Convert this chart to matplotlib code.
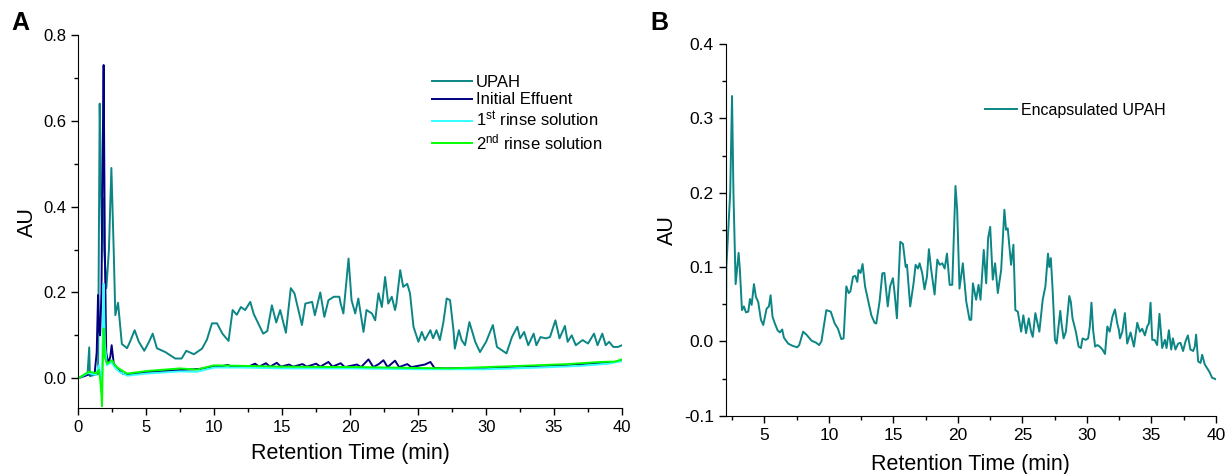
import matplotlib
matplotlib.use("Agg")
import matplotlib.pyplot as plt
from matplotlib.ticker import MultipleLocator, FormatStrFormatter

plt.rcParams['font.family'] = ['Liberation Sans', 'DejaVu Sans']
plt.rcParams['mathtext.default'] = 'regular'
plt.rcParams['axes.unicode_minus'] = False

NARROW = ['Liberation Sans Narrow', 'Liberation Sans', 'DejaVu Sans']

# ---------------- panel A data ----------------
upah_t = [0, 0.68, 0.8, 0.85, 1.2, 1.45, 1.57, 1.66, 1.74, 1.8, 1.9, 2.06, 2.25, 2.43, 2.6,
          2.72, 2.92, 3.2, 3.58, 3.8, 4.14, 4.45, 4.85, 5.2, 5.47, 5.78, 6.4, 7.13, 7.6,
          7.94, 8.5, 9.1, 9.46, 9.83, 10.2, 10.6, 11.05, 11.35, 11.66, 11.96, 12.27,
          12.65, 12.9, 13.6, 13.9, 14.24, 14.56, 14.85, 15.27, 15.63, 15.9, 16.45, 16.7,
          17.2, 17.4, 17.8, 18.1, 18.4, 18.8, 19.2, 19.3, 19.5, 19.88, 20.1, 20.37, 20.6,
          20.98, 21.2, 21.6, 21.84, 22.08, 22.33, 22.57, 22.8, 23.06, 23.3, 23.4, 23.68,
          23.9, 24.2, 24.4, 24.66, 25.02, 25.27, 25.5, 25.9, 26.1, 26.35, 26.6, 26.86,
          27.1, 27.35, 27.6, 27.7, 28.0, 28.2, 28.45, 28.77, 28.95, 29.2, 29.55, 30.0,
          30.5, 30.8, 31.5, 31.9, 32.3, 32.5, 32.8, 33.1, 33.5, 33.7, 34.0, 34.4, 34.7,
          35.1, 35.4, 35.8, 36.0, 36.3, 36.6, 37.1, 37.5, 37.94, 38.2, 38.55, 38.8,
          39.05, 39.36, 39.7, 40.0]
upah_v = [0, 0.012, 0.072, 0.005, 0.008, 0.01, 0.64, 0.45, 0.33, 0.42, 0.3, 0.21, 0.3, 0.49, 0.3,
          0.147, 0.176, 0.08, 0.07, 0.085, 0.112, 0.085, 0.064, 0.085, 0.104, 0.07, 0.061,
          0.046, 0.046, 0.064, 0.056, 0.069, 0.09, 0.128, 0.128, 0.104, 0.087, 0.159,
          0.148, 0.166, 0.159, 0.178, 0.15, 0.104, 0.11, 0.17, 0.13, 0.159, 0.106, 0.21,
          0.198, 0.124, 0.174, 0.178, 0.147, 0.2, 0.143, 0.182, 0.19, 0.19, 0.174, 0.151,
          0.279, 0.182, 0.151, 0.186, 0.108, 0.159, 0.151, 0.135, 0.198, 0.166, 0.236,
          0.174, 0.19, 0.159, 0.174, 0.252, 0.213, 0.22, 0.198, 0.12, 0.085, 0.108, 0.089,
          0.112, 0.093, 0.112, 0.089, 0.131, 0.186, 0.182, 0.112, 0.069, 0.112, 0.089,
          0.077, 0.131, 0.112, 0.085, 0.061, 0.085, 0.124, 0.073, 0.058, 0.096, 0.12,
          0.093, 0.108, 0.077, 0.104, 0.077, 0.096, 0.093, 0.096, 0.135, 0.093, 0.122,
          0.085, 0.1, 0.077, 0.089, 0.081, 0.104, 0.077, 0.104, 0.077, 0.085, 0.073,
          0.073, 0.077]

eff_t = [0, 0.7, 1.2, 1.35, 1.45, 1.52, 1.6, 1.7, 1.8, 1.86, 1.95, 2.05, 2.2, 2.35, 2.45,
         2.6, 2.9, 3.3, 3.8, 5, 6.5, 8, 9, 9.8, 10.5, 11, 11.3, 11.6, 12.5, 13, 13.3, 13.8,
         14.1, 14.6, 14.9, 15.5, 15.8, 16.5, 16.8, 17.5, 17.8, 18.4, 18.7, 19.3, 19.6,
         20.5, 20.8, 21.35, 21.7, 22.1, 22.45, 22.75, 23.3, 23.6, 24.2, 24.5, 25.5, 25.9,
         26.2, 27, 30, 33, 36, 38, 39.5, 40]
eff_v = [0, 0.008, 0.012, 0.06, 0.194, 0.11, 0.1, 0.2, 0.55, 0.73, 0.3, 0.06, 0.035, 0.05,
         0.077, 0.035, 0.02, 0.01, 0.009, 0.014, 0.017, 0.02, 0.022, 0.027, 0.028, 0.031,
         0.027, 0.028, 0.027, 0.034, 0.027, 0.035, 0.027, 0.036, 0.027, 0.032, 0.027,
         0.033, 0.027, 0.034, 0.027, 0.038, 0.027, 0.035, 0.026, 0.032, 0.026, 0.044,
         0.026, 0.033, 0.042, 0.026, 0.041, 0.026, 0.033, 0.026, 0.032, 0.038, 0.024,
         0.023, 0.024, 0.028, 0.031, 0.035, 0.038, 0.042]

rinse1_t = [0, 0.7, 1.3, 1.5, 1.62, 1.72, 1.8, 1.86, 1.95, 2.1, 2.4, 2.7, 3.0, 3.6, 5, 7.5,
            8.7, 10, 12, 15, 20, 25, 30, 34, 37, 39, 40]
rinse1_v = [0, 0.012, 0.008, 0.03, 0.01, -0.02, 0.1, 0.22, 0.08, 0.03, 0.038, 0.025, 0.015,
            0.006, 0.011, 0.016, 0.015, 0.025, 0.025, 0.023, 0.023, 0.021, 0.021, 0.025,
            0.029, 0.034, 0.04]

rinse2_t = [0, 0.76, 1.35, 1.5, 1.6, 1.7, 1.74, 1.8, 1.86, 1.95, 2.1, 2.3, 2.48, 2.7, 2.97,
            3.58, 5.05, 7.5, 8.7, 9.95, 12, 15, 20.7, 25, 27.35, 30, 33.5, 36, 38.4, 39.5, 40]
rinse2_v = [0, 0.015, 0.012, 0.02, 0.0, -0.04, -0.065, 0.04, 0.116, 0.05, 0.034, 0.038, 0.042,
            0.03, 0.023, 0.011, 0.017, 0.023, 0.02, 0.03, 0.029, 0.027, 0.026, 0.024, 0.023,
            0.026, 0.03, 0.033, 0.038, 0.039, 0.044]

# ---------------- panel B data ----------------
enc_t = [2.0, 2.05, 2.2, 2.35, 2.49, 2.6, 2.77, 3.0, 3.1, 3.26, 3.41, 3.57, 3.75, 3.88, 4.01,
         4.19, 4.34, 4.52, 4.73, 4.91, 5.17, 5.35, 5.48, 5.63, 5.81, 6.02, 6.2, 6.38, 6.51,
         6.84, 7.18, 7.54, 7.7, 8.0, 8.26, 8.65, 9.03, 9.24, 9.42, 9.8, 10.14, 10.45, 10.7,
         10.96, 11.14, 11.35, 11.53, 11.66, 11.87, 12.05, 12.2, 12.3, 12.46, 12.61, 12.8,
         13.03, 13.29, 13.54, 13.67, 13.93, 14.14, 14.3, 14.56, 14.74, 14.96, 15.09, 15.27,
         15.53, 15.74, 15.95, 16.05, 16.3, 16.56, 16.72, 16.9, 17.03, 17.23, 17.41, 17.6,
         17.75, 17.93, 18.19, 18.4, 18.58, 18.79, 18.97, 19.15, 19.36, 19.56, 19.81, 19.94,
         20.12, 20.38, 20.64, 20.9, 21.03, 21.16, 21.41, 21.6, 21.75, 22.0, 22.19, 22.34,
         22.5, 22.7, 22.88, 23.09, 23.35, 23.6, 23.73, 23.86, 24.12, 24.3, 24.45, 24.64,
         24.9, 25.07, 25.28, 25.49, 25.67, 25.8, 26.0, 26.31, 26.57, 26.78, 26.98, 27.08,
         27.2, 27.34, 27.52, 27.65, 27.8, 27.93, 28.03, 28.19, 28.37, 28.63, 28.75, 28.88,
         29.14, 29.35, 29.53, 29.66, 29.91, 30.09, 30.22, 30.35, 30.48, 30.63, 30.81, 30.99,
         31.2, 31.4, 31.58, 31.76, 31.97, 32.17, 32.35, 32.48, 32.56, 32.74, 32.94, 33.12,
         33.38, 33.64, 33.9, 34.1, 34.28, 34.49, 34.67, 34.8, 34.93, 35.06, 35.24, 35.44,
         35.62, 35.83, 36.04, 36.17, 36.35, 36.53, 36.66, 36.86, 37.07, 37.25, 37.45, 37.64,
         37.82, 38.02, 38.23, 38.36, 38.46, 38.62, 38.8, 38.93, 39.13, 39.31, 39.49, 39.7,
         40.0]
enc_v = [-0.12, 0.1, 0.15, 0.2, 0.33, 0.2, 0.077, 0.119, 0.096, 0.042, 0.047, 0.039, 0.04,
         0.057, 0.049, 0.077, 0.06, 0.053, 0.029, 0.022, 0.044, 0.047, 0.062, 0.033, 0.024,
         0.015, 0.012, 0.016, 0.005, -0.003, -0.006, -0.008, -0.005, 0.013, 0.009, 0.001,
         -0.002, -0.005, 0.0, 0.042, 0.04, 0.024, 0.017, 0.003, 0.004, 0.074, 0.065, 0.067,
         0.087, 0.088, 0.08, 0.096, 0.092, 0.104, 0.074, 0.056, 0.035, 0.025, 0.024, 0.054,
         0.0915, 0.092, 0.047, 0.074, 0.085, 0.065, 0.031, 0.134, 0.131, 0.1, 0.103, 0.047,
         0.078, 0.103, 0.098, 0.105, 0.092, 0.07, 0.087, 0.124, 0.096, 0.063, 0.11, 0.103,
         0.105, 0.098, 0.118, 0.076, 0.076, 0.209, 0.177, 0.071, 0.105, 0.054, 0.029, 0.029,
         0.078, 0.056, 0.076, 0.056, 0.123, 0.078, 0.139, 0.154, 0.083, 0.105, 0.065, 0.096,
         0.177, 0.15, 0.152, 0.103, 0.13, 0.042, 0.04, 0.013, 0.035, 0.011, 0.031, 0.013,
         0.006, 0.038, 0.013, 0.056, 0.074, 0.118, 0.1, 0.112, 0.069, 0.002, -0.003, 0.02,
         0.041, 0.024, 0.004, 0.013, 0.061, 0.053, 0.031, 0.013, -0.007, -0.009, 0.004, 0.002,
         0.004, 0.02, 0.052, 0.015, -0.007, -0.005, -0.007, -0.011, -0.017, 0.02, 0.013,
         0.033, 0.043, 0.024, 0.015, 0.004, 0.013, 0.038, -0.003, 0.012, -0.007, 0.025,
         0.013, 0.017, 0.008, 0.02, 0.024, 0.052, 0.002, 0.002, -0.005, 0.037, -0.009, 0.002,
         -0.009, 0.015, -0.011, 0.004, -0.011, -0.003, -0.002, -0.013, 0.0, 0.008, -0.011,
         -0.013, -0.007, 0.009, -0.027, -0.029, -0.018, -0.031, -0.036, -0.041, -0.049,
         -0.051]

TEAL = '#0c8585'

fig = plt.figure(figsize=(12.3, 4.74), dpi=100)

######################### Panel A #########################
ax1 = fig.add_axes([0.0637, 0.1386, 0.442, 0.7876])
ax1.plot(upah_t, upah_v, color=TEAL, lw=1.4, label='UPAH')
ax1.plot(eff_t, eff_v, color='#000080', lw=1.4, label='Initial Effuent')
ax1.plot(rinse1_t, rinse1_v, color='#33ffff', lw=1.4, label='1$^{st}$ rinse solution')
ax1.plot(rinse2_t, rinse2_v, color='#00ff00', lw=1.4, label='2$^{nd}$ rinse solution')
ax1.set_xlim(0, 40)
ax1.set_ylim(-0.07, 0.8)
ax1.xaxis.set_major_locator(MultipleLocator(5))
ax1.xaxis.set_minor_locator(MultipleLocator(2.5))
ax1.yaxis.set_major_locator(MultipleLocator(0.2))
ax1.yaxis.set_minor_locator(MultipleLocator(0.1))
ax1.yaxis.set_major_formatter(FormatStrFormatter('%.1f'))
ax1.set_xlabel('Retention Time (min)', fontsize=15.5, labelpad=6)
ax1.set_ylabel('AU', fontsize=15.5, labelpad=4)
ax1.tick_params(which='major', labelsize=12)
ax1.legend(loc='upper left', bbox_to_anchor=(0.6505, 0.893), frameon=False, fontsize=12,
           handlelength=2.4, handletextpad=0.25, labelspacing=0.15, borderpad=0,
           borderaxespad=0)

######################### Panel B #########################
ax2 = fig.add_axes([0.590, 0.123, 0.3986, 0.7842])
ax2.plot(enc_t, enc_v, color=TEAL, lw=1.4, label='Encapsulated UPAH')
ax2.set_xlim(2, 40)
ax2.set_ylim(-0.1, 0.4)
ax2.set_xticks([5, 10, 15, 20, 25, 30, 35, 40])
ax2.xaxis.set_minor_locator(MultipleLocator(2.5))
ax2.yaxis.set_major_locator(MultipleLocator(0.1))
ax2.yaxis.set_minor_locator(MultipleLocator(0.05))
ax2.yaxis.set_major_formatter(FormatStrFormatter('%.1f'))
ax2.set_xlabel('Retention Time (min)', fontsize=15.5, family=NARROW, labelpad=8)
ax2.set_ylabel('AU', fontsize=15.5, family=NARROW, labelpad=4)
ax2.tick_params(which='major', labelsize=12.5)
for lab in ax2.get_xticklabels() + ax2.get_yticklabels():
    lab.set_family(NARROW)
ax2.legend(loc='upper left', bbox_to_anchor=(0.529, 0.841), frameon=False,
           prop={'family': NARROW, 'size': 11.5},
           handlelength=2.0, handletextpad=0.25, borderpad=0, borderaxespad=0)

for ax in (ax1, ax2):
    ax.spines['top'].set_visible(False)
    ax.spines['right'].set_visible(False)
    ax.tick_params(which='major', direction='out', length=5, width=1)
    ax.tick_params(which='minor', direction='out', length=3, width=1)

fig.text(0.009, 0.952, 'A', fontsize=18, fontweight='bold', va='center')
fig.text(0.529, 0.952, 'B', fontsize=18, fontweight='bold', va='center')

fig.savefig('out.png', dpi=100)
